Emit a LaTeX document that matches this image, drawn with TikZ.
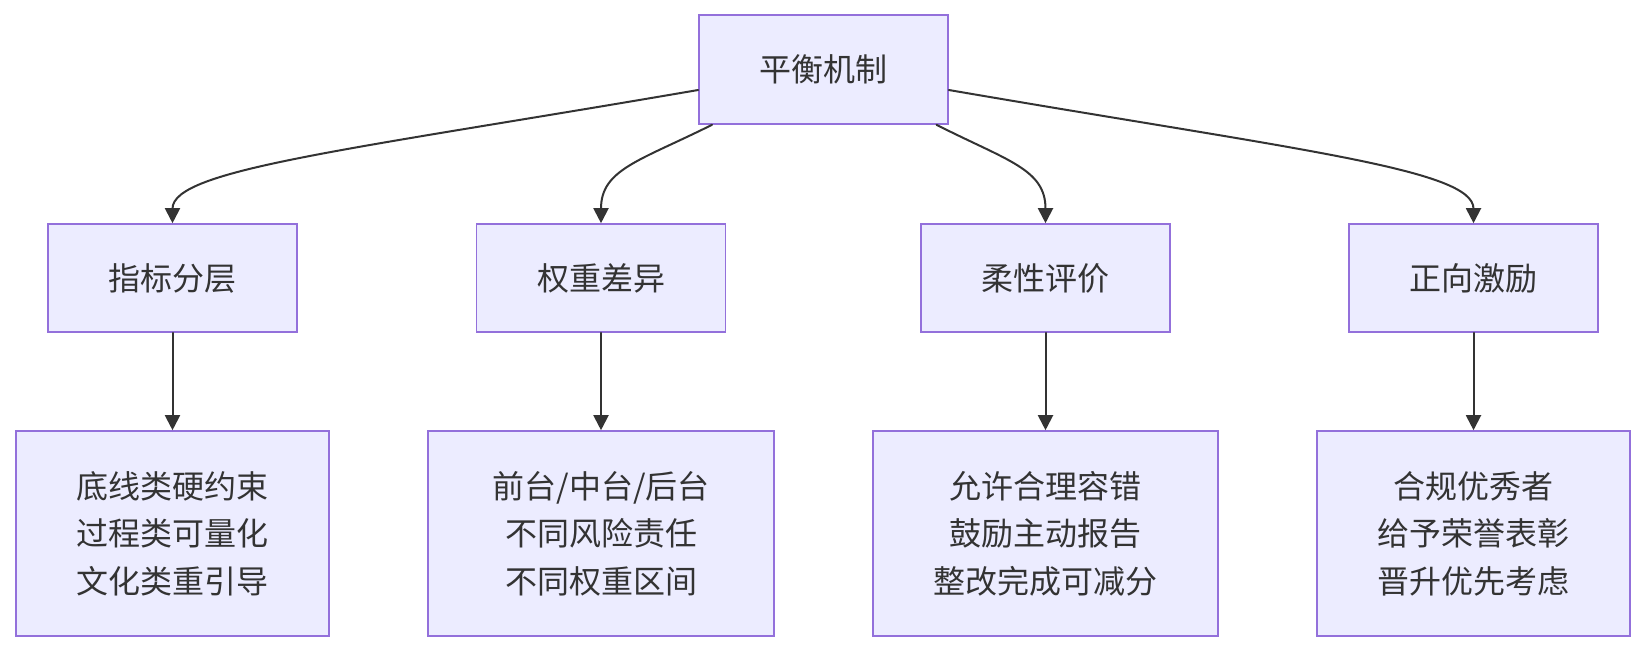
\documentclass[tikz,border=0pt]{standalone}
\usepackage{fontspec}
\newfontfamily\cjk{Noto Sans CJK SC}
\usetikzlibrary{arrows.meta}
\definecolor{boxfill}{HTML}{ECECFF}
\definecolor{boxline}{HTML}{9370DB}
\definecolor{ink}{HTML}{333333}
\begin{document}
\begin{tikzpicture}[x=1pt,y=-1pt,line cap=round,>={Triangle[length=15pt,width=15pt]},
  box/.style={draw=boxline,fill=boxfill,line width=1.6pt,inner sep=0pt,text=ink,
    align=center,font=\cjk\fontsize{32}{47.5}\selectfont},
  small/.style={box,minimum width=249pt,minimum height=108pt},
  link/.style={draw=ink,line width=2pt,->}]
  \useasboundingbox (0,0) rectangle (1645,652);
  % top
  \node[small,minimum height=109pt] (balance) at (823.5,69.5) {平衡机制};
  % middle row
  \node[small] (layer) at (172.5,278) {指标分层};
  \node[small] (weight) at (601,278) {权重差异};
  \node[small] (flex) at (1045.5,278) {柔性评价};
  \node[small] (reward) at (1473.5,278) {正向激励};
  % bottom row
  \node[box,minimum width=313pt,minimum height=205pt] (layerd) at (172.5,533.5)
    {底线类硬约束\\过程类可量化\\文化类重引导};
  \node[box,minimum width=346pt,minimum height=205pt] (weightd) at (601,533.5)
    {前台/中台/后台\\不同风险责任\\不同权重区间};
  \node[box,minimum width=345pt,minimum height=205pt] (flexd) at (1045.5,533.5)
    {允许合理容错\\鼓励主动报告\\整改完成可减分};
  \node[box,minimum width=313pt,minimum height=205pt] (rewardd) at (1473.5,533.5)
    {合规优秀者\\给予荣誉表彰\\晋升优先考虑};
  % links
  \draw[link] ([yshift=-20.5pt]balance.west) .. controls +(-349,60) and +(0,-54) .. (layer.north);
  \draw[link] ([xshift=-111.5pt]balance.south) .. controls +(-72,36) and +(0,-54) .. (weight.north);
  \draw[link] ([xshift=113pt]balance.south) .. controls +(71,36) and +(0,-54) .. (flex.north);
  \draw[link] ([yshift=-20.5pt]balance.east) .. controls +(349,60) and +(0,-54) .. (reward.north);
  \draw[link] (layer) -- (layerd);
  \draw[link] (weight) -- (weightd);
  \draw[link] (flex) -- (flexd);
  \draw[link] (reward) -- (rewardd);
\end{tikzpicture}
\end{document}
